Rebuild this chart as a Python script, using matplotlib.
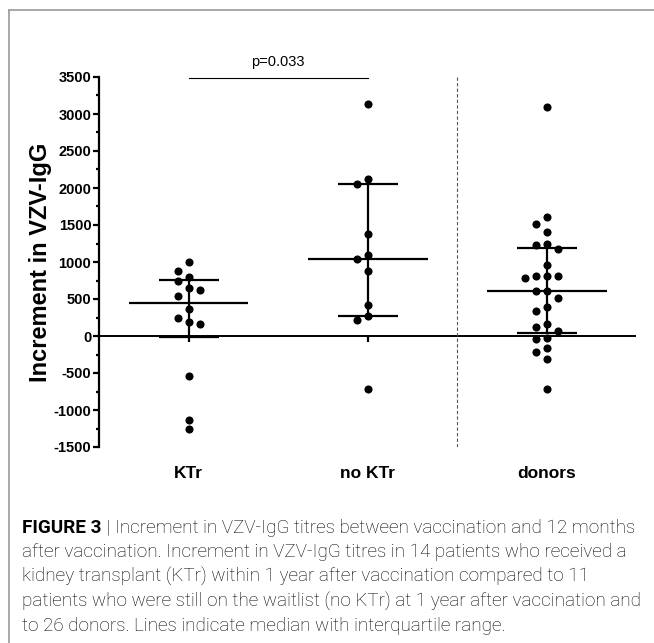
import numpy as np
import matplotlib
matplotlib.use("Agg")
import matplotlib.pyplot as plt
from matplotlib.lines import Line2D
from matplotlib.ticker import MultipleLocator

plt.rcParams['font.family'] = ['Liberation Sans', 'DejaVu Sans']
plt.rcParams['axes.unicode_minus'] = False

# Increment in VZV-IgG per group
groups = ['KTr', 'no KTr', 'donors']
ktr = [1000, 875, 803, 740, 655, 619, 534, 370, 242, 184, 161, -534, -1131, -1261]
no_ktr = [3132, 2122, 2059, 1382, 1090, 1036, 875, 417, 274, 220, -713]
donors = [3100, 1611, 1517, 1409, 1248, 1225, 1171, 956, 812, 812, 812, 790,
          610, 610, 511, 394, 332, 161, 117, 72, -27, -40, -166, -220, -310, -713]
values = [ktr, no_ktr, donors]
p_text = 'p=0.033'

caption = [
    'after vaccination. Increment in VZV-IgG titres in 14 patients who received a',
    'kidney transplant (KTr) within 1 year after vaccination compared to 11',
    'patients who were still on the waitlist (no KTr) at 1 year after vaccination and',
    'to 26 donors. Lines indicate median with interquartile range.',
]

W, H = 654, 643
fig = plt.figure(figsize=(W / 100, H / 100), dpi=100)
ax = fig.add_axes([99 / W, 1 - 447 / H, (636 - 99) / W, (447 - 77) / H])
ax.set_xlim(0.5, 3.5)
ax.set_ylim(-1500, 3500)

# pixel scale, used to lay out the swarm
px_per_unit_y = (447 - 77) / 5000
px_per_unit_x = (636 - 99) / 3.0
dot_px = 8
col_px = 11


def swarm(vals):
    """Column slots so that dots in the same column do not overlap."""
    placed = []
    slots = []
    for v in vals:
        for s in [0, -1, 1, -2, 2, -3, 3]:
            ok = all(not (ps == s and abs(pv - v) * px_per_unit_y < dot_px + 1.5)
                     for pv, ps in placed)
            if ok:
                break
        placed.append((v, s))
        slots.append(s)
    return np.array(slots)


for i, vals in enumerate(values):
    xc = i + 1
    v = np.array(vals, dtype=float)
    q1, med, q3 = np.percentile(v, [25, 50, 75], method='weibull')
    ax.hlines(med, xc - 60 / px_per_unit_x, xc + 60 / px_per_unit_x,
              color='black', lw=1.6, zorder=3)
    ax.hlines([q1, q3], xc - 30 / px_per_unit_x, xc + 30 / px_per_unit_x,
              color='black', lw=1.6, zorder=3)
    ax.vlines(xc, q1, q3, color='black', lw=1.6, zorder=3)
    order = np.argsort(-v)
    slots = swarm(v[order])
    xs = xc + slots * col_px / px_per_unit_x
    ax.scatter(xs, v[order], s=34, color='black', zorder=4, linewidths=0)
    # tick mark under the zero line
    ax.vlines(xc, -6 / px_per_unit_y, 0, color='black', lw=1.6, zorder=2)

ax.axhline(0, color='black', lw=1.4, zorder=2)
ax.vlines(2.5, -1500, 3500, color='#555555', lw=0.8, linestyles=(0, (3, 2)))

# significance bar
ax.plot([1, 2], [3490, 3490], color='black', lw=0.8, clip_on=False)
ax.text(1.5, 3700, p_text, ha='center', va='center', fontsize=10.5, clip_on=False)

for sp in ['top', 'right', 'bottom']:
    ax.spines[sp].set_visible(False)
ax.spines['left'].set_linewidth(1.6)
ax.yaxis.set_major_locator(MultipleLocator(500))
ax.yaxis.set_minor_locator(MultipleLocator(250))
ax.tick_params(axis='y', which='major', length=4.5, width=1.6, labelsize=10.5, pad=1)
ax.tick_params(axis='y', which='minor', length=2.2, width=1.6)
for lab in ax.get_yticklabels():
    lab.set_fontweight('bold')
ax.set_xticks([1, 2, 3])
ax.set_xticklabels(groups, fontsize=12.5, fontweight='bold')
ax.tick_params(axis='x', length=0, pad=14)
ax.set_ylabel('Increment in VZV-IgG', fontsize=17, fontweight='bold', labelpad=1)

# frame around the figure panel
fig.add_artist(Line2D([9 / W, 1], [1 - 10 / H, 1 - 10 / H], color='#999999', lw=1.2))
fig.add_artist(Line2D([9 / W, 9 / W], [1 - 10 / H, 0], color='#999999', lw=1.2))

# caption
cap_font = dict(family=['Roboto', 'DejaVu Sans'], fontsize=13.6, color='black')
y0 = 528
t1 = fig.text(22 / W, 1 - y0 / H, 'FIGURE 3', fontweight='bold', va='center', **cap_font)
fig.canvas.draw()
bb = t1.get_window_extent()
fig.text(bb.x1 / W, 1 - y0 / H, ' | Increment in VZV-IgG titres between vaccination and 12 months',
         fontweight='light', va='center', **cap_font)
for k, line in enumerate(caption):
    fig.text(22 / W, 1 - (y0 + 24.4 * (k + 1)) / H, line, fontweight='light',
             va='center', **cap_font)

fig.savefig('out.png', dpi=100)
